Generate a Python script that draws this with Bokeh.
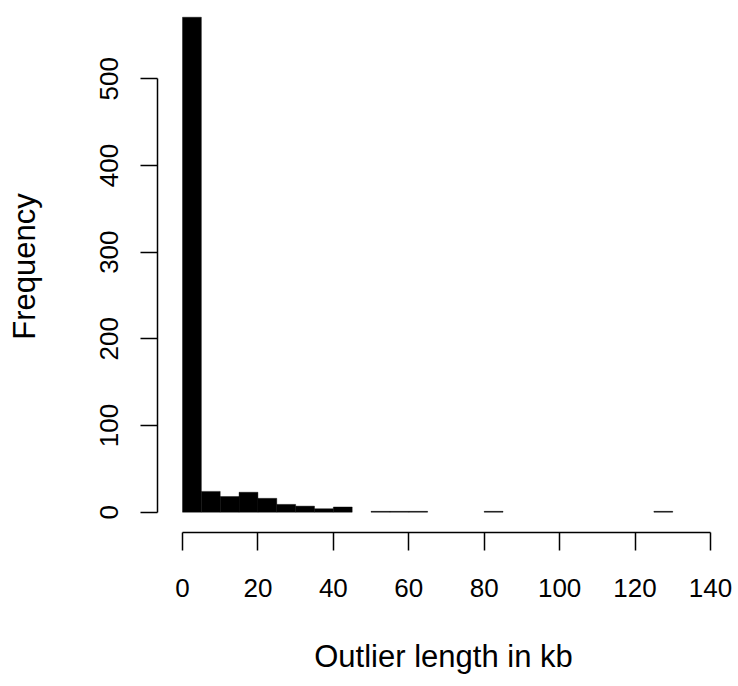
from bokeh.plotting import figure
from bokeh.models import Range1d, FixedTicker, ColumnDataSource
from bokeh.embed import file_html
from bokeh.resources import INLINE

# Histogram data: bins of 5 kb from 0 to 130
bin_left = [0, 5, 10, 15, 20, 25, 30, 35, 40, 45, 50, 55, 60, 65, 70, 75, 80, 85, 90, 95, 100, 105, 110, 115, 120, 125]
bin_right = [5, 10, 15, 20, 25, 30, 35, 40, 45, 50, 55, 60, 65, 70, 75, 80, 85, 90, 95, 100, 105, 110, 115, 120, 125, 130]
counts = [571, 24, 18, 23, 16, 9, 7, 4, 6, 0, 1, 1, 1, 0, 0, 0, 1, 0, 0, 0, 0, 0, 0, 0, 0, 1]

x_ticks = [0, 20, 40, 60, 80, 100, 120, 140]
y_ticks = [0, 100, 200, 300, 400, 500]

FONT = "Liberation Sans"

# empty bins draw nothing (no border), as in the original
keep = [i for i, c in enumerate(counts) if c > 0]
src = ColumnDataSource(dict(left=[bin_left[i] for i in keep],
                            right=[bin_right[i] for i in keep],
                            top=[counts[i] for i in keep],
                            bottom=[0] * len(keep)))

p = figure(width=732, height=684, output_backend="svg", toolbar_location=None,
           x_range=Range1d(-6.63, 145.05), y_range=Range1d(-23.42, 590.3),
           min_border_left=157, min_border_right=3, min_border_top=0, min_border_bottom=152)

p.quad(left="left", right="right", top="top", bottom="bottom", source=src,
       fill_color="black", line_color="black", line_width=0.4)

p.grid.visible = False
p.outline_line_color = None
p.background_fill_color = "white"
p.border_fill_color = "white"

xa = p.xaxis[0]
xa.bounds = (0, 140)
xa.ticker = FixedTicker(ticks=x_ticks)
xa.major_tick_out = 18
xa.major_tick_in = 0
xa.minor_tick_out = 0
xa.minor_tick_in = 0
xa.axis_line_color = "black"
xa.axis_line_width = 1.5
xa.major_tick_line_color = "black"
xa.major_tick_line_width = 1.5
xa.major_label_text_font = FONT
xa.major_label_text_font_size = "26px"
xa.major_label_text_color = "black"
xa.major_label_standoff = 28
xa.axis_label = "Outlier length in kb"
xa.axis_label_text_font = FONT
xa.axis_label_text_font_size = "31px"
xa.axis_label_text_font_style = "normal"
xa.axis_label_text_color = "black"
xa.axis_label_standoff = 39

ya = p.yaxis[0]
ya.bounds = (0, 500)
ya.ticker = FixedTicker(ticks=y_ticks)
ya.major_tick_out = 17
ya.major_tick_in = 0
ya.minor_tick_out = 0
ya.minor_tick_in = 0
ya.axis_line_color = "black"
ya.axis_line_width = 1.5
ya.major_tick_line_color = "black"
ya.major_tick_line_width = 1.5
ya.major_label_orientation = "vertical"
ya.major_label_text_font = FONT
ya.major_label_text_font_size = "26px"
ya.major_label_text_color = "black"
ya.major_label_standoff = 22
ya.axis_label = "Frequency"
ya.axis_label_text_font = FONT
ya.axis_label_text_font_size = "31px"
ya.axis_label_text_font_style = "normal"
ya.axis_label_text_color = "black"
ya.axis_label_standoff = 56

open("out.html", "w").write(file_html(p, INLINE))
